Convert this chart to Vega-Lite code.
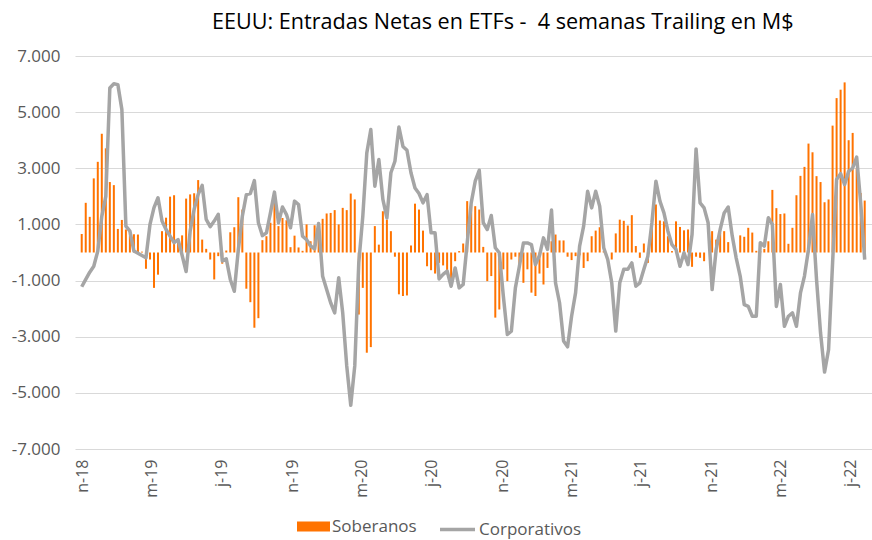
{
"$schema": "https://vega.github.io/schema/vega-lite/v6.json",
"width": 797, "height": 393,
"autosize": {"type": "none"},
"padding": {"left": 75, "top": 56, "right": 0, "bottom": 91},
"background": "white",
"title": {"text": "EEUU: Entradas Netas en ETFs - \u00a04 semanas Trailing en M$", "anchor": "start", "frame": "group", "dx": 137, "offset": 13, "fontSize": 21.6, "font": "Open Sans", "fontWeight": 500, "color": "#000000"},
"config": {"view": {"stroke": null}},
"data": {"values": [
{"d":"2018-10-30","s":660,"c":-1220},{"d":"2018-11-06","s":1770,"c":-960},{"d":"2018-11-13","s":1270,"c":-700},{"d":"2018-11-20","s":2640,"c":-490},{"d":"2018-11-27","s":3230,"c":50},{"d":"2018-12-04","s":4230,"c":1290},{"d":"2018-12-11","s":3710,"c":2000},{"d":"2018-12-18","s":2510,"c":5860},{"d":"2018-12-25","s":2400,"c":6010},{"d":"2019-01-01","s":840,"c":5980},
{"d":"2019-01-08","s":1160,"c":5090},{"d":"2019-01-15","s":820,"c":940},{"d":"2019-01-22","s":750,"c":760},{"d":"2019-01-29","s":650,"c":50},{"d":"2019-02-05","s":640,"c":-30},{"d":"2019-02-12","s":30,"c":-110},{"d":"2019-02-19","s":-580,"c":-190},{"d":"2019-02-26","s":-250,"c":1000},{"d":"2019-03-05","s":-1260,"c":1600},{"d":"2019-03-12","s":-790,"c":1950},
{"d":"2019-03-19","s":760,"c":1120},{"d":"2019-03-26","s":1240,"c":820},{"d":"2019-04-02","s":1990,"c":580},{"d":"2019-04-09","s":2040,"c":350},{"d":"2019-04-16","s":460,"c":460},{"d":"2019-04-23","s":610,"c":-100},{"d":"2019-04-30","s":1920,"c":-680},{"d":"2019-05-07","s":2070,"c":760},{"d":"2019-05-14","s":2110,"c":1540},{"d":"2019-05-21","s":2580,"c":2070},
{"d":"2019-05-28","s":460,"c":2390},{"d":"2019-06-04","s":130,"c":1180},{"d":"2019-06-11","s":-250,"c":920},{"d":"2019-06-18","s":-960,"c":1120},{"d":"2019-06-25","s":-130,"c":1360},{"d":"2019-07-02","s":-400,"c":-300},{"d":"2019-07-09","s":70,"c":-225},{"d":"2019-07-16","s":720,"c":-960},{"d":"2019-07-23","s":900,"c":-1380},{"d":"2019-07-30","s":1970,"c":100},
{"d":"2019-08-06","s":1530,"c":1290},{"d":"2019-08-13","s":-1290,"c":2060},{"d":"2019-08-20","s":-1770,"c":2100},{"d":"2019-08-27","s":-2680,"c":2560},{"d":"2019-09-03","s":-2340,"c":1060},{"d":"2019-09-10","s":440,"c":600},{"d":"2019-09-17","s":580,"c":700},{"d":"2019-09-24","s":1060,"c":1410},{"d":"2019-10-01","s":2000,"c":2150},{"d":"2019-10-08","s":940,"c":1060},
{"d":"2019-10-15","s":1230,"c":1620},{"d":"2019-10-22","s":1150,"c":1350},{"d":"2019-10-29","s":190,"c":880},{"d":"2019-11-05","s":600,"c":1830},{"d":"2019-11-12","s":180,"c":1710},{"d":"2019-11-19","s":60,"c":580},{"d":"2019-11-26","s":1000,"c":460},{"d":"2019-12-03","s":400,"c":230},{"d":"2019-12-10","s":970,"c":130},{"d":"2019-12-17","s":1030,"c":1030},
{"d":"2019-12-24","s":1200,"c":-850},{"d":"2019-12-31","s":1390,"c":-1320},{"d":"2020-01-07","s":1410,"c":-1790},{"d":"2020-01-14","s":1510,"c":-2150},{"d":"2020-01-21","s":1000,"c":-900},{"d":"2020-01-28","s":1590,"c":-2150},{"d":"2020-02-04","s":1510,"c":-4040},{"d":"2020-02-11","s":2100,"c":-5440},{"d":"2020-02-18","s":1890,"c":-4040},{"d":"2020-02-25","s":-2210,"c":-370},
{"d":"2020-03-03","s":-1260,"c":1290},{"d":"2020-03-10","s":-3570,"c":3550},{"d":"2020-03-17","s":-3370,"c":4380},{"d":"2020-03-24","s":940,"c":2360},{"d":"2020-03-31","s":280,"c":3310},{"d":"2020-04-07","s":1470,"c":1890},{"d":"2020-04-14","s":1170,"c":1230},{"d":"2020-04-21","s":760,"c":2840},{"d":"2020-04-28","s":-150,"c":3250},{"d":"2020-05-05","s":-1490,"c":4470},
{"d":"2020-05-12","s":-1550,"c":3780},{"d":"2020-05-19","s":-1530,"c":3640},{"d":"2020-05-26","s":250,"c":2840},{"d":"2020-06-02","s":1740,"c":2300},{"d":"2020-06-09","s":1530,"c":2100},{"d":"2020-06-16","s":780,"c":1770},{"d":"2020-06-23","s":-490,"c":2060},{"d":"2020-06-30","s":-630,"c":700},{"d":"2020-07-07","s":-750,"c":700},{"d":"2020-07-14","s":-370,"c":-940},
{"d":"2020-07-21","s":-460,"c":-780},{"d":"2020-07-28","s":-720,"c":-660},{"d":"2020-08-04","s":-960,"c":-1200},{"d":"2020-08-11","s":-310,"c":-550},{"d":"2020-08-18","s":50,"c":-1260},{"d":"2020-08-25","s":320,"c":-1140},{"d":"2020-09-01","s":1830,"c":340},{"d":"2020-09-08","s":1700,"c":1770},{"d":"2020-09-15","s":1650,"c":2540},{"d":"2020-09-22","s":1530,"c":2930},
{"d":"2020-09-29","s":200,"c":1060},{"d":"2020-10-06","s":-1020,"c":820},{"d":"2020-10-13","s":-840,"c":1320},{"d":"2020-10-20","s":-2320,"c":170},{"d":"2020-10-27","s":-2030,"c":-10},{"d":"2020-11-03","s":-600,"c":-1550},{"d":"2020-11-10","s":-1020,"c":-2920},{"d":"2020-11-17","s":-250,"c":-2800},{"d":"2020-11-24","s":-150,"c":-1260},{"d":"2020-12-01","s":-490,"c":-490},
{"d":"2020-12-08","s":-1080,"c":340},{"d":"2020-12-15","s":-600,"c":340},{"d":"2020-12-22","s":-1430,"c":280},{"d":"2020-12-29","s":-1550,"c":-430},{"d":"2021-01-05","s":-750,"c":-110},{"d":"2021-01-12","s":-1140,"c":520},{"d":"2021-01-19","s":-550,"c":110},{"d":"2021-01-26","s":400,"c":1510},{"d":"2021-02-02","s":640,"c":-1080},{"d":"2021-02-09","s":430,"c":-1790},
{"d":"2021-02-16","s":430,"c":-3150},{"d":"2021-02-23","s":-150,"c":-3360},{"d":"2021-03-02","s":-270,"c":-2270},{"d":"2021-03-09","s":-130,"c":-1430},{"d":"2021-03-16","s":-100,"c":230},{"d":"2021-03-23","s":-550,"c":940},{"d":"2021-03-30","s":-310,"c":2180},{"d":"2021-04-06","s":580,"c":1590},{"d":"2021-04-13","s":780,"c":2180},{"d":"2021-04-20","s":900,"c":1650},
{"d":"2021-04-27","s":50,"c":170},{"d":"2021-05-04","s":0,"c":-250},{"d":"2021-05-11","s":-250,"c":-1080},{"d":"2021-05-18","s":680,"c":-2800},{"d":"2021-05-25","s":1170,"c":-1080},{"d":"2021-06-01","s":1130,"c":-600},{"d":"2021-06-08","s":960,"c":-600},{"d":"2021-06-15","s":1330,"c":-370},{"d":"2021-06-22","s":230,"c":-1200},{"d":"2021-06-29","s":-190,"c":-1080},
{"d":"2021-07-06","s":320,"c":-600},{"d":"2021-07-13","s":-370,"c":-130},{"d":"2021-07-20","s":1000,"c":1060},{"d":"2021-07-27","s":1710,"c":2540},{"d":"2021-08-03","s":1140,"c":1830},{"d":"2021-08-10","s":1110,"c":1410},{"d":"2021-08-17","s":580,"c":760},{"d":"2021-08-24","s":50,"c":280},{"d":"2021-08-31","s":1110,"c":110},{"d":"2021-09-07","s":910,"c":-490},
{"d":"2021-09-14","s":790,"c":-10},{"d":"2021-09-21","s":820,"c":-430},{"d":"2021-09-28","s":-510,"c":640},{"d":"2021-10-05","s":-150,"c":3690},{"d":"2021-10-12","s":-190,"c":1770},{"d":"2021-10-19","s":-310,"c":1590},{"d":"2021-10-26","s":0,"c":1060},{"d":"2021-11-02","s":760,"c":-1320},{"d":"2021-11-09","s":460,"c":100},{"d":"2021-11-16","s":700,"c":820},
{"d":"2021-11-23","s":760,"c":1410},{"d":"2021-11-30","s":370,"c":1620},{"d":"2021-12-07","s":0,"c":600},{"d":"2021-12-14","s":0,"c":-200},{"d":"2021-12-21","s":610,"c":-850},{"d":"2021-12-28","s":560,"c":-1860},{"d":"2022-01-04","s":880,"c":-1920},{"d":"2022-01-11","s":710,"c":-2270},{"d":"2022-01-18","s":60,"c":-2270},{"d":"2022-01-25","s":50,"c":350},
{"d":"2022-02-01","s":130,"c":230},{"d":"2022-02-08","s":400,"c":1240},{"d":"2022-02-15","s":2230,"c":1000},{"d":"2022-02-22","s":1580,"c":-1920},{"d":"2022-03-01","s":1370,"c":-1140},{"d":"2022-03-08","s":1390,"c":-2630},{"d":"2022-03-15","s":310,"c":-2270},{"d":"2022-03-22","s":880,"c":-2150},{"d":"2022-03-29","s":2040,"c":-2630},{"d":"2022-04-05","s":2730,"c":-1440},
{"d":"2022-04-12","s":3050,"c":-840},{"d":"2022-04-19","s":3880,"c":110},{"d":"2022-04-26","s":3570,"c":1350},{"d":"2022-05-03","s":2720,"c":-960},{"d":"2022-05-10","s":2510,"c":-2860},{"d":"2022-05-17","s":1790,"c":-4260},{"d":"2022-05-24","s":1890,"c":-3460},{"d":"2022-05-31","s":4520,"c":-370},{"d":"2022-06-07","s":5500,"c":2600},{"d":"2022-06-14","s":5800,"c":2810},
{"d":"2022-06-21","s":6060,"c":2420},{"d":"2022-06-28","s":4000,"c":2890},{"d":"2022-07-05","s":4260,"c":3010},{"d":"2022-07-12","s":3000,"c":3400},{"d":"2022-07-19","s":2120,"c":1770},{"d":"2022-07-26","s":1850,"c":-250}
]},
"encoding": {
  "x": {"field": "d", "type": "temporal",
    "scale": {"type": "utc", "domain": [{"year": 2018, "month": 10, "date": 27, "utc": true}, {"year": 2022, "month": 7, "date": 30, "utc": true}]},
    "axis": {"title": null, "domain": false, "ticks": false, "grid": false, "labelAngle": 270, "labelAlign": "right", "labelBaseline": "middle", "labelPadding": 10, "labelFontSize": 16, "labelFont": "Open Sans", "labelColor": "#595959",
      "values": [{"year": 2018, "month": 11, "date": 1, "utc": true}, {"year": 2019, "month": 3, "date": 1, "utc": true}, {"year": 2019, "month": 7, "date": 1, "utc": true}, {"year": 2019, "month": 11, "date": 1, "utc": true}, {"year": 2020, "month": 3, "date": 1, "utc": true}, {"year": 2020, "month": 7, "date": 1, "utc": true}, {"year": 2020, "month": 11, "date": 1, "utc": true}, {"year": 2021, "month": 3, "date": 1, "utc": true}, {"year": 2021, "month": 7, "date": 1, "utc": true}, {"year": 2021, "month": 11, "date": 1, "utc": true}, {"year": 2022, "month": 3, "date": 1, "utc": true}, {"year": 2022, "month": 7, "date": 1, "utc": true}],
      "labelExpr": "['e','f','m','a','m','j','j','a','s','o','n','d'][utcmonth(datum.value)] + '-' + utcFormat(datum.value, '%y')"}}
},
"layer": [
  {"mark": {"type": "bar", "width": 2},
   "encoding": {
     "y": {"field": "s", "type": "quantitative", "scale": {"domain": [-7000, 7000], "nice": false, "zero": true},
       "axis": {"title": null, "domain": false, "ticks": false, "grid": true, "gridColor": "#d9d9d9", "gridWidth": 1, "values": [-7000, -5000, -3000, -1000, 1000, 3000, 5000, 7000], "labelExpr": "(datum.value < 0 ? '-' : '') + replace(format(abs(datum.value), ','), ',', '.')", "labelPadding": 15, "labelFontSize": 17, "labelFont": "Open Sans", "labelColor": "#595959"}},
     "fill": {"datum": "Soberanos", "type": "nominal", "scale": {"domain": ["Soberanos"], "range": ["#ff7300"]},
       "legend": {"title": null, "orient": "none", "legendX": 222, "legendY": 454, "symbolType": "M-1,-0.3H1V0.3H-1Z", "symbolSize": 1089, "symbolStrokeWidth": 0, "labelOffset": 2, "labelFontSize": 17, "labelFont": "Open Sans", "labelColor": "#595959"}}
   }},
  {"mark": {"type": "line", "strokeWidth": 3.5, "strokeJoin": "round", "interpolate": "linear"},
   "encoding": {
     "y": {"field": "c", "type": "quantitative"},
     "stroke": {"datum": "Corporativos", "type": "nominal", "scale": {"domain": ["Corporativos"], "range": ["#a5a5a5"]},
       "legend": {"title": null, "orient": "none", "legendX": 363, "legendY": 454, "symbolType": "stroke", "symbolSize": 1225, "symbolStrokeWidth": 3.5, "labelOffset": 2, "labelFontSize": 17, "labelFont": "Open Sans", "labelColor": "#595959"}}
   }}
]
}
